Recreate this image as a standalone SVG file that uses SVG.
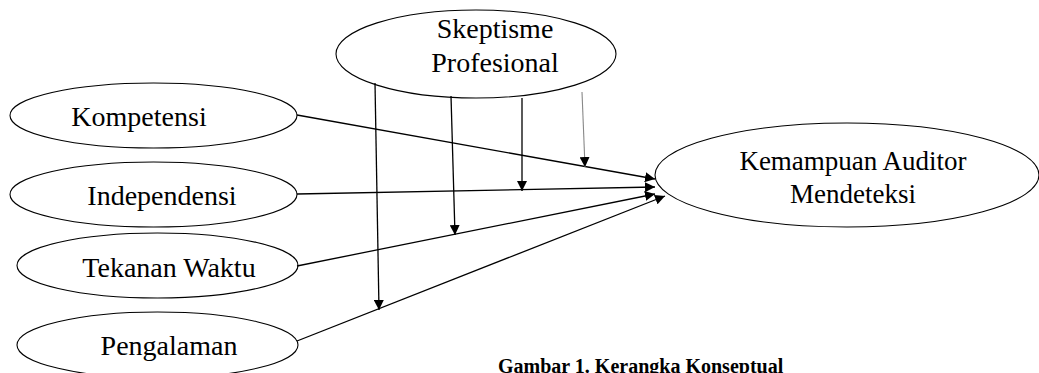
<svg xmlns="http://www.w3.org/2000/svg" width="1039" height="373" viewBox="0 0 1039 373">
<style>
.node ellipse{fill:#fff;stroke:#000;stroke-width:1.1}
.lbl{font-family:"Liberation Serif","Times New Roman",serif;font-size:28px;fill:#000;text-anchor:middle}
.cap{font-family:"Liberation Serif","Times New Roman",serif;font-size:20px;font-weight:bold;fill:#000}
.conn line{stroke:#000;stroke-width:1.3;marker-end:url(#ah)}
.conn line.gray{stroke:#888;stroke-width:1.1;marker-end:url(#ah)}
</style>
<defs>
<marker id="ah" markerUnits="userSpaceOnUse" markerWidth="10" markerHeight="10" refX="10" refY="5" orient="auto">
<path d="M0,0 L10,5 L0,10 z" fill="#000"/>
</marker>
</defs>
<rect width="1039" height="373" fill="#fff"/>
<g id="skeptisme" class="node">
<ellipse cx="476" cy="54" rx="140" ry="44"/>
<text class="lbl" x="495" y="38">Skeptisme</text>
<text class="lbl" x="495" y="72">Profesional</text>
</g>
<g id="kompetensi" class="node">
<ellipse cx="153.5" cy="115.5" rx="143.5" ry="32.5"/>
<text class="lbl" x="139" y="126">Kompetensi</text>
</g>
<g id="independensi" class="node">
<ellipse cx="153.5" cy="194.5" rx="143.5" ry="32.5"/>
<text class="lbl" x="162" y="205">Independensi</text>
</g>
<g id="tekanan" class="node">
<ellipse cx="157.5" cy="265.5" rx="140.5" ry="32.5"/>
<text class="lbl" x="169" y="277">Tekanan Waktu</text>
</g>
<g id="pengalaman" class="node">
<ellipse cx="157.5" cy="345" rx="140.5" ry="33"/>
<text class="lbl" x="169" y="355">Pengalaman</text>
</g>
<g id="kemampuan" class="node">
<ellipse cx="847" cy="175" rx="192" ry="52"/>
<text class="lbl" x="853" y="170" style="font-size:27px">Kemampuan Auditor</text>
<text class="lbl" x="853" y="203" style="font-size:27px">Mendeteksi</text>
</g>
<g id="connectors" class="conn">
<line x1="297" y1="115" x2="655" y2="179"/>
<line x1="297" y1="194" x2="655" y2="187"/>
<line x1="297" y1="266" x2="655" y2="194"/>
<line x1="297" y1="341" x2="665" y2="196"/>
<line x1="375" y1="83" x2="379" y2="310"/>
<line x1="451" y1="96" x2="455" y2="235"/>
<line x1="522" y1="98" x2="522" y2="191"/>
<line class="gray" x1="582" y1="92" x2="585" y2="167"/>
</g>
<text class="cap" x="498" y="373">Gambar 1. Kerangka Konseptual</text>
</svg>
